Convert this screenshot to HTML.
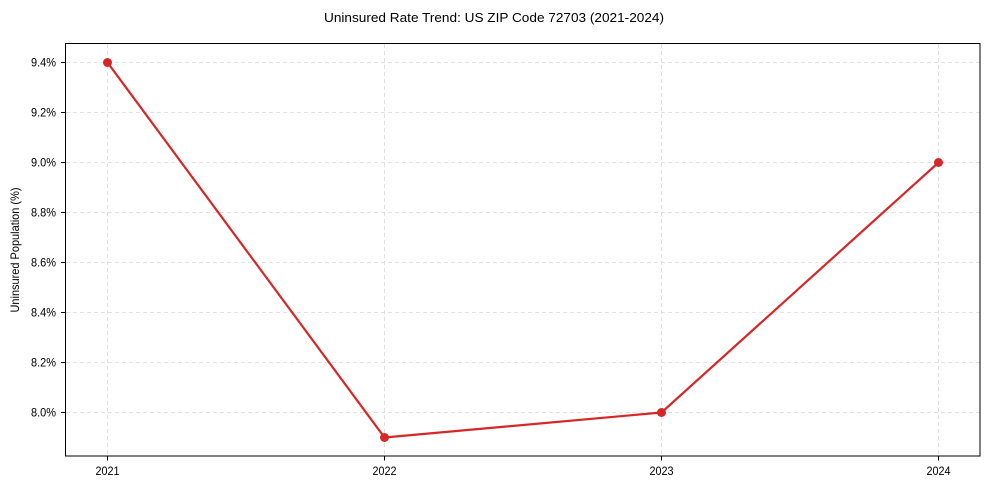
<!DOCTYPE html>
<html><head><meta charset="utf-8"><style>html,body{margin:0;padding:0;background:#fff}svg{display:block}text{font-family:"Liberation Sans",sans-serif;fill:#000}</style></head>
<body>
<svg width="989" height="490" viewBox="0 0 989 490" xmlns="http://www.w3.org/2000/svg">
<rect width="989" height="490" fill="#fff"/>
<g stroke="#d9d9d9" stroke-width="0.8" stroke-dasharray="4,3">
<line x1="66" x2="980" y1="62.5" y2="62.5"/><line x1="66" x2="980" y1="112.5" y2="112.5"/><line x1="66" x2="980" y1="162.5" y2="162.5"/><line x1="66" x2="980" y1="212.5" y2="212.5"/><line x1="66" x2="980" y1="262.5" y2="262.5"/><line x1="66" x2="980" y1="312.5" y2="312.5"/><line x1="66" x2="980" y1="362.5" y2="362.5"/><line x1="66" x2="980" y1="412.5" y2="412.5"/>
<line y1="44" y2="456" x1="107.5" x2="107.5"/><line y1="44" y2="456" x1="384.5" x2="384.5"/><line y1="44" y2="456" x1="661.5" x2="661.5"/><line y1="44" y2="456" x1="938.5" x2="938.5"/>
</g>
<rect x="65.5" y="43.5" width="914.5" height="412.5" fill="none" stroke="#000" stroke-width="1"/>
<g stroke="#000" stroke-width="1">
<line x1="61" x2="65.5" y1="62.5" y2="62.5"/><line x1="61" x2="65.5" y1="112.5" y2="112.5"/><line x1="61" x2="65.5" y1="162.5" y2="162.5"/><line x1="61" x2="65.5" y1="212.5" y2="212.5"/><line x1="61" x2="65.5" y1="262.5" y2="262.5"/><line x1="61" x2="65.5" y1="312.5" y2="312.5"/><line x1="61" x2="65.5" y1="362.5" y2="362.5"/><line x1="61" x2="65.5" y1="412.5" y2="412.5"/>
<line y1="456" y2="460.5" x1="107.5" x2="107.5"/><line y1="456" y2="460.5" x1="384.5" x2="384.5"/><line y1="456" y2="460.5" x1="661.5" x2="661.5"/><line y1="456" y2="460.5" x1="938.5" x2="938.5"/>
</g>
<g font-size="12" text-anchor="end" lengthAdjust="spacingAndGlyphs">
<text x="56" y="66.5" textLength="25" lengthAdjust="spacingAndGlyphs">9.4%</text><text x="56" y="116.5" textLength="25" lengthAdjust="spacingAndGlyphs">9.2%</text><text x="56" y="166.5" textLength="25" lengthAdjust="spacingAndGlyphs">9.0%</text><text x="56" y="216.5" textLength="25" lengthAdjust="spacingAndGlyphs">8.8%</text><text x="56" y="266.5" textLength="25" lengthAdjust="spacingAndGlyphs">8.6%</text><text x="56" y="316.5" textLength="25" lengthAdjust="spacingAndGlyphs">8.4%</text><text x="56" y="366.5" textLength="25" lengthAdjust="spacingAndGlyphs">8.2%</text><text x="56" y="416.5" textLength="25" lengthAdjust="spacingAndGlyphs">8.0%</text>
</g>
<g font-size="12" text-anchor="middle">
<text x="107.5" y="475" textLength="24" lengthAdjust="spacingAndGlyphs">2021</text><text x="384.5" y="475" textLength="24" lengthAdjust="spacingAndGlyphs">2022</text><text x="661.5" y="475" textLength="24" lengthAdjust="spacingAndGlyphs">2023</text><text x="938.5" y="475" textLength="24" lengthAdjust="spacingAndGlyphs">2024</text>
</g>
<text x="494" y="22" font-size="13" text-anchor="middle" textLength="340" lengthAdjust="spacingAndGlyphs">Uninsured Rate Trend: US ZIP Code 72703 (2021-2024)</text>
<text transform="translate(19,250) rotate(-90)" font-size="12" text-anchor="middle" textLength="125" lengthAdjust="spacingAndGlyphs">Uninsured Population (%)</text>
<polyline points="107.5,62.5 384.5,437.5 661.5,412.5 938.5,162.5" fill="none" stroke="#d62728" stroke-width="2.2" stroke-linejoin="round"/>
<g fill="#d62728"><circle cx="107.5" cy="62.5" r="4.5"/><circle cx="384.5" cy="437.5" r="4.5"/><circle cx="661.5" cy="412.5" r="4.5"/><circle cx="938.5" cy="162.5" r="4.5"/></g>
</svg>
</body></html>
